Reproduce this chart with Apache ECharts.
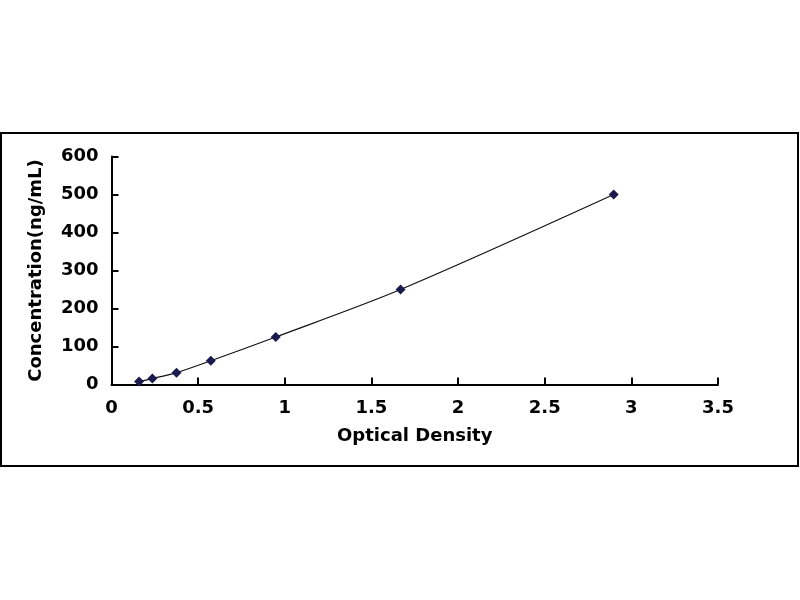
<!DOCTYPE html>
<html>
<head>
<meta charset="utf-8">
<script src="https://cdn.jsdelivr.net/npm/echarts@6/dist/echarts.min.js"></script>
<style>
html,body{margin:0;padding:0;background:#fff;}
#c{width:800px;height:600px;}
</style>
</head>
<body>
<div id="c"></div>
<script>
const opticalDensity = [0.159, 0.236, 0.375, 0.573, 0.948, 1.668, 2.898];
const concentration = [7.8, 15.6, 31.25, 62.5, 125, 250, 500];
const xTicks = [0, 0.5, 1, 1.5, 2, 2.5, 3, 3.5];
const yTicks = [0, 100, 200, 300, 400, 500, 600];

const points = opticalDensity.map((x, i) => [x, concentration[i]]);
const font = 'DejaVu Sans, Arial, sans-serif';

const chart = echarts.init(document.getElementById('c'), null, {renderer: 'canvas'});
chart.setOption({
  backgroundColor: '#fff',
  animation: false,
  graphic: [{
    type: 'rect',
    shape: {x: 1, y: 133, width: 797, height: 333},
    style: {fill: 'none', stroke: '#000', lineWidth: 2},
    z: -1
  }],
  grid: {left: 111.5, right: 82, top: 156.5, bottom: 215.5, containLabel: false},
  xAxis: {
    type: 'value',
    min: xTicks[0], max: xTicks[xTicks.length - 1], interval: 0.5,
    name: 'Optical Density',
    nameLocation: 'middle', nameGap: 43,
    nameTextStyle: {fontFamily: font, fontWeight: 'bold', fontSize: 18, color: '#000'},
    axisLine: {lineStyle: {color: '#000', width: 2}},
    axisTick: {inside: true, length: 7, lineStyle: {color: '#000', width: 2}},
    axisLabel: {fontFamily: font, fontWeight: 'bold', fontSize: 18, color: '#000', margin: 15},
    splitLine: {show: false}
  },
  yAxis: {
    type: 'value',
    min: yTicks[0], max: yTicks[yTicks.length - 1], interval: 100,
    name: 'Concentration(ng/mL)',
    nameLocation: 'middle', nameGap: 66,
    nameTextStyle: {fontFamily: font, fontWeight: 'bold', fontSize: 18, color: '#000'},
    axisLine: {show: true, lineStyle: {color: '#000', width: 2}},
    axisTick: {show: true, inside: true, length: 7, lineStyle: {color: '#000', width: 2}},
    axisLabel: {fontFamily: font, fontWeight: 'bold', fontSize: 18, color: '#000', margin: 13},
    splitLine: {show: false}
  },
  series: [{
    type: 'line',
    data: points,
    smooth: 0.3,
    symbol: 'diamond',
    symbolSize: 10,
    itemStyle: {color: '#1a1a4e'},
    lineStyle: {color: '#111', width: 1.2}
  }]
});
</script>
</body>
</html>
